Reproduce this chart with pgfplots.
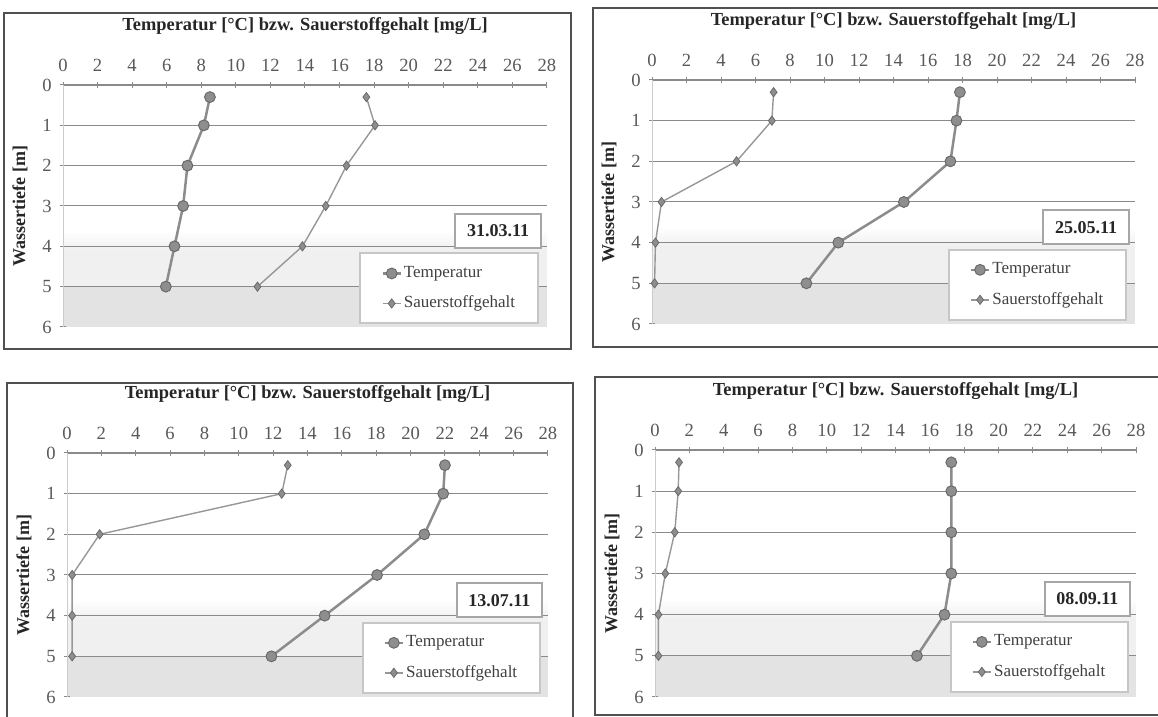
\documentclass[border=0pt]{standalone}
\usepackage{fontspec}
\setmainfont{Liberation Serif}
\usepackage{pgfplots}
\usepackage{pgfplotstable}
\pgfplotsset{compat=1.18}
\definecolor{markf}{HTML}{8E8E8E}
\definecolor{markd}{HTML}{6A6A6A}
\definecolor{linec}{HTML}{8C8C8C}
\definecolor{gridc}{HTML}{8A8A8A}
\definecolor{framec}{HTML}{505050}

\pgfplotstableread{
d T O
0.3 8.5 17.55
1 8.15 18.05
2 7.2 16.4
3 6.95 15.2
4 6.45 13.85
5 5.95 11.25
}\tabA
\pgfplotstableread{
d T O
0.3 17.85 7.05
1 17.65 6.95
2 17.3 4.9
3 14.6 0.55
4 10.8 0.2
5 8.95 0.15
}\tabB
\pgfplotstableread{
d T O
0.3 22.0 12.85
1 21.9 12.5
2 20.8 1.9
3 18.05 0.3
4 15.0 0.3
5 11.9 0.3
}\tabC
\pgfplotstableread{
d T O
0.3 17.25 1.4
1 17.25 1.35
2 17.25 1.15
3 17.25 0.6
4 16.85 0.2
5 15.25 0.2
}\tabD

\pgfplotsset{
  panel/.style={
    scale only axis, set layers,
    anchor=north west,
    xmin=0, xmax=28, ymin=0, ymax=6, y dir=reverse,
    xtick={0,2,...,28}, ytick={0,1,...,6},
    axis x line*=top, axis y line*=left,
    x axis line style={gridc, line width=0.6pt, -},
    y axis line style={gray!40, line width=0.5pt, -},
    extra y ticks={1,2,3,4,5}, extra y tick labels={},
    extra y tick style={grid=major, major tick length=0pt},
    grid style={gridc, line width=0.5pt},
    tick style={gridc, line width=0.5pt},
    major tick length=3pt, tick align=center,
    /pgf/number format/assume math mode=true,
    ticklabel style={font=\fontsize{9.3}{11}\selectfont, text=black!65},
    xticklabel style={inner sep=1pt, yshift=4pt},
    yticklabel style={inner sep=1pt, xshift=-3pt},
    title={Temperatur [°C] bzw. Sauerstoffgehalt [mg/L]},
    title style={font=\fontsize{9.2}{11}\selectfont\bfseries, text=black!85,
      at={(0.5,1)}, anchor=center, yshift=23.5pt},
    ylabel={Wassertiefe [m]},
    ylabel style={font=\fontsize{9}{11}\selectfont\bfseries, text=black!85,
      at={(axis description cs:0,0.5)}, anchor=center, yshift=21.5pt},
    legend style={at={(0.6125,0.308)}, anchor=north west, draw=gray!45,
      line width=1pt, fill=white, inner xsep=10.5pt, inner ysep=2.5pt,
      font=\fontsize{8.5}{10}\selectfont, text=black!75,
      nodes={minimum height=15pt, inner sep=1pt}, row sep=0pt},
    legend cell align=left,
    legend image code/.code={\draw[mark repeat=2,mark phase=2,##1]
      plot coordinates {(0pt,0pt) (4.5pt,0pt) (9pt,0pt)};},
  },
  temp/.style={color=linec, line width=1.25pt, mark=*, mark size=2.7pt,
    mark options={fill=markf, draw=markd, line width=0.5pt}},
  oxy/.style={color=linec!90, line width=0.7pt, mark=diamond*, mark size=2.3pt,
    mark options={fill=markf, draw=markd, line width=0.4pt}},
}
\newcommand{\bgshade}{%
  \begin{pgfonlayer}{axis background}
    \shade[top color=white, bottom color=gray!12] (axis cs:0,3.6) rectangle (axis cs:28,4.1);
    \fill[gray!12] (axis cs:0,4.1) rectangle (axis cs:28,5);
    \fill[gray!22] (axis cs:0,5) rectangle (axis cs:28,6);
  \end{pgfonlayer}}
\newcommand{\datebox}[1]{%
  \node[draw=gray!70, line width=1pt, fill=white, minimum width=42.8pt, minimum height=17pt,
    font=\fontsize{9}{11}\selectfont\bfseries, text=black!85] at (axis cs:25.17,3.62) {#1};}

\begin{document}
\begin{tikzpicture}
\draw[framec, line width=1pt] (2pt,352pt) rectangle (285.5pt,184pt);
\draw[framec, line width=1pt] (296.5pt,354.5pt) rectangle (581pt,185pt);
\draw[framec, line width=1pt] (3.5pt,167pt) rectangle (286.5pt,-6.5pt);
\draw[framec, line width=1pt] (297.5pt,170pt) rectangle (581pt,1pt);

\begin{axis}[panel, at={(31.5pt,316pt)}, width=242pt, height=121pt]
\bgshade
\addplot[temp] table[x=T, y=d] {\tabA};
\addplot[oxy] table[x=O, y=d] {\tabA};
\legend{Temperatur, Sauerstoffgehalt}
\datebox{31.03.11}
\end{axis}

\begin{axis}[panel, at={(326pt,318.5pt)}, width=241.5pt, height=122pt]
\bgshade
\addplot[temp] table[x=T, y=d] {\tabB};
\addplot[oxy] table[x=O, y=d] {\tabB};
\legend{Temperatur, Sauerstoffgehalt}
\datebox{25.05.11}
\end{axis}

\begin{axis}[panel, at={(33.5pt,132pt)}, width=240.5pt, height=122pt]
\bgshade
\addplot[temp] table[x=T, y=d] {\tabC};
\addplot[oxy] table[x=O, y=d] {\tabC};
\legend{Temperatur, Sauerstoffgehalt}
\datebox{13.07.11}
\end{axis}

\begin{axis}[panel, at={(327.5pt,133.5pt)}, width=240.5pt, height=123.5pt]
\bgshade
\addplot[temp] table[x=T, y=d] {\tabD};
\addplot[oxy] table[x=O, y=d] {\tabD};
\legend{Temperatur, Sauerstoffgehalt}
\datebox{08.09.11}
\end{axis}
\pgfresetboundingbox
\path[use as bounding box] (0,0) rectangle (579pt,358.5pt);
\end{tikzpicture}
\end{document}
